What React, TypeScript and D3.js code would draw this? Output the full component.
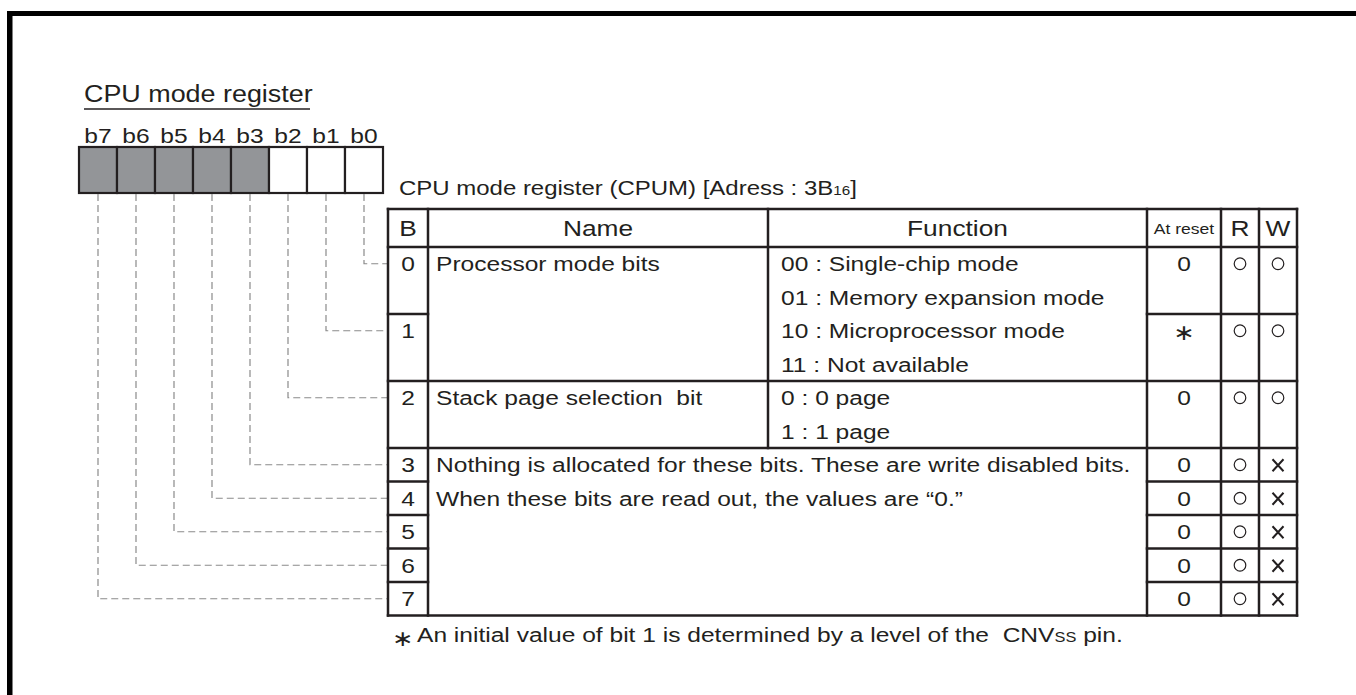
import React from 'react';
import * as d3 from 'd3';

// register layout
const bitLabels = ['b7', 'b6', 'b5', 'b4', 'b3', 'b2', 'b1', 'b0'];
const reservedBits = ['b7', 'b6', 'b5', 'b4', 'b3'];

// table rows: bit number, height in text lines, value at reset, read, write
const rowBits = [0, 1, 2, 3, 4, 5, 6, 7];
const rowUnits = [2, 2, 2, 1, 1, 1, 1, 1];
const resetValues = ['0', '∗', '0', '0', '0', '0', '0', '0'];
const readFlags = [true, true, true, true, true, true, true, true];
const writeFlags = [true, true, true, false, false, false, false, false];

const headers = ['B', 'Name', 'Function', 'At reset', 'R', 'W'];
const processorName = 'Processor mode bits';
const processorFunction = [
  '00 : Single-chip mode',
  '01 : Memory expansion mode',
  '10 : Microprocessor mode',
  '11 : Not available',
];
const stackName = 'Stack page selection  bit';
const stackFunction = ['0 : 0 page', '1 : 1 page'];
const reservedText = [
  'Nothing is allocated for these bits. These are write disabled bits.',
  'When these bits are read out, the values are \u201c0.\u201d',
];

const INK = '#231f20';
const FONT = 'Liberation Sans, Arial, Helvetica, sans-serif';
const SX = 1.17; // glyphs in the original are a bit wider than Arial

const W = 1356;
const H = 695;

// column edges: B | Name | Function | At reset | R | W
const colEdges = [388, 428, 768, 1147, 1221, 1259, 1297];
const HEADER_TOP = 209;
const HEADER_BOTTOM = 247;
const TOTAL_UNITS = d3.sum(rowUnits);

type TProps = {
  x: number;
  y: number;
  size?: number;
  anchor?: 'start' | 'middle' | 'end';
  family?: string;
  children: React.ReactNode;
};

const T: React.FC<TProps> = ({ x, y, size = 21, anchor = 'start', family = FONT, children }) => (
  <text
    transform={`translate(${x},${y}) scale(${SX},1)`}
    textAnchor={anchor}
    fill={INK}
    fontFamily={family}
    fontSize={size}
    style={{ whiteSpace: 'pre' }}
  >
    {children}
  </text>
);

const App: React.FC = () => {
  const xBit = d3.scaleBand<string>().domain(bitLabels).range([79, 383]).padding(0);
  const yUnit = d3.scaleLinear().domain([0, TOTAL_UNITS]).range([HEADER_BOTTOM, 615.5]);

  const rowStart: number[] = [];
  let acc = 0;
  rowUnits.forEach((u) => {
    rowStart.push(acc);
    acc += u;
  });
  const unitCenter = (u: number) => (yUnit(u) + yUnit(u + 1)) / 2;
  const rowMid = (i: number) => unitCenter(rowStart[i]);
  const colMid = (c: number) => (colEdges[c] + colEdges[c + 1]) / 2;

  const tableLeft = colEdges[0];
  const tableRight = colEdges[colEdges.length - 1];
  const tableBottom = yUnit(TOTAL_UNITS);

  const lineW = 2.5;
  const lines: React.ReactElement[] = [];
  const hl = (x1: number, x2: number, y: number, k: string) =>
    lines.push(<line key={k} x1={x1} x2={x2} y1={y} y2={y} stroke={INK} strokeWidth={lineW} strokeLinecap="square" />);
  const vl = (x: number, y1: number, y2: number, k: string) =>
    lines.push(<line key={k} x1={x} x2={x} y1={y1} y2={y2} stroke={INK} strokeWidth={lineW} strokeLinecap="square" />);

  // outer frame and header
  hl(tableLeft, tableRight, HEADER_TOP, 'top');
  hl(tableLeft, tableRight, HEADER_BOTTOM, 'hb');
  hl(tableLeft, tableRight, tableBottom, 'bot');
  colEdges.forEach((x, i) => {
    if (i === 2) return;
    vl(x, HEADER_TOP, tableBottom, `v${i}`);
  });
  // name/function divider only for rows 0..2
  vl(colEdges[2], HEADER_TOP, yUnit(rowStart[3]), 'v2');

  // row separators
  rowBits.forEach((b, i) => {
    if (i === 0) return;
    const y = yUnit(rowStart[i]);
    if (b === 1 || b >= 4) {
      hl(colEdges[0], colEdges[1], y, `r${i}a`);
      hl(colEdges[3], tableRight, y, `r${i}b`);
    } else {
      hl(tableLeft, tableRight, y, `r${i}`);
    }
  });

  const baseline = 7.5;

  return (
    <svg width={W} height={H} style={{ position: 'absolute', left: 0, top: 0, background: '#fff' }}>
      <rect x={0} y={0} width={W} height={H} fill="#fff" />
      {/* cropped page frame */}
      <rect x={7} y={11} width={W - 7} height={5} fill="#000" />
      <rect x={7} y={11} width={5.5} height={H - 11} fill="#000" />

      {/* register title */}
      <T x={84} y={102} size={23}>CPU mode register</T>
      <line x1={84} x2={310} y1={109} y2={109} stroke={INK} strokeWidth={1.3} />

      {/* bit labels and boxes */}
      {bitLabels.map((b) => (
        <T key={b} x={(xBit(b) ?? 0) + xBit.bandwidth() / 2} y={143} anchor="middle">
          {b}
        </T>
      ))}
      {bitLabels.map((b) => (
        <rect
          key={`box-${b}`}
          x={xBit(b)}
          y={147}
          width={xBit.bandwidth()}
          height={46}
          fill={reservedBits.includes(b) ? '#939598' : '#fff'}
          stroke={INK}
          strokeWidth={2.2}
        />
      ))}

      {/* dashed leaders */}
      {rowBits.map((bit, i) => {
        const lbl = `b${bit}`;
        const x = (xBit(lbl) ?? 0) + xBit.bandwidth() / 2;
        const y = rowMid(i);
        return (
          <path
            key={`lead-${bit}`}
            d={`M${x},194 V${y} H${tableLeft - 1}`}
            fill="none"
            stroke="#8a8a8a"
            strokeWidth={1.2}
            strokeDasharray="7,4"
          />
        );
      })}

      {/* table title */}
      <T x={399} y={195} size={20.5}>
        CPU mode register (CPUM) [Adress : 3B<tspan fontSize={13}>16</tspan>]
      </T>

      {/* headers */}
      {headers.map((h, c) => (
        <T
          key={h}
          x={colMid(c)}
          y={(HEADER_TOP + HEADER_BOTTOM) / 2 + (h === 'At reset' ? 5.5 : 8)}
          anchor="middle"
          size={h === 'At reset' ? 15 : 22.5}
        >
          {h}
        </T>
      ))}

      {/* bit numbers */}
      {rowBits.map((b, i) => (
        <T key={`bn-${b}`} x={colMid(0)} y={rowMid(i) + baseline} anchor="middle">
          {b}
        </T>
      ))}

      {/* names & functions */}
      <T x={colEdges[1] + 8} y={rowMid(0) + baseline}>{processorName}</T>
      {processorFunction.map((t, k) => (
        <T key={t} x={colEdges[2] + 13} y={unitCenter(rowStart[0] + k) + baseline}>
          {t}
        </T>
      ))}
      <T x={colEdges[1] + 8} y={rowMid(2) + baseline}>{stackName}</T>
      {stackFunction.map((t, k) => (
        <T key={t} x={colEdges[2] + 13} y={unitCenter(rowStart[2] + k) + baseline}>
          {t}
        </T>
      ))}
      {reservedText.map((t, k) => (
        <T key={t} x={colEdges[1] + 8} y={unitCenter(rowStart[3] + k) + baseline}>
          {t}
        </T>
      ))}

      {/* at reset / R / W */}
      {rowBits.map((b, i) => {
        const y = rowMid(i);
        const r = resetValues[i];
        const wx = colMid(5);
        return (
          <g key={`v-${b}`}>
            {r === '∗' ? (
              <T x={colMid(3)} y={y + 9} anchor="middle" family="DejaVu Sans" size={22}>
                ∗
              </T>
            ) : (
              <T x={colMid(3)} y={y + baseline} anchor="middle">
                {r}
              </T>
            )}
            {readFlags[i] && <circle cx={colMid(4)} cy={y} r={5.8} fill="none" stroke={INK} strokeWidth={1.2} />}
            {writeFlags[i] ? (
              <circle cx={wx} cy={y} r={5.8} fill="none" stroke={INK} strokeWidth={1.2} />
            ) : (
              <path
                d={`M${wx - 5.5},${y - 5.5} L${wx + 5.5},${y + 6.5} M${wx + 5.5},${y - 5.5} L${wx - 5.5},${y + 6.5}`}
                stroke={INK}
                strokeWidth={2}
              />
            )}
          </g>
        );
      })}

      {lines}

      {/* footnote */}
      <T x={392} y={646} family="DejaVu Sans" size={22}>∗</T>
      <T x={417} y={642}>
        An initial value of bit 1 is determined by a level of the  CNV<tspan fontSize={14}>SS</tspan> pin.
      </T>
    </svg>
  );
};

export default App;
